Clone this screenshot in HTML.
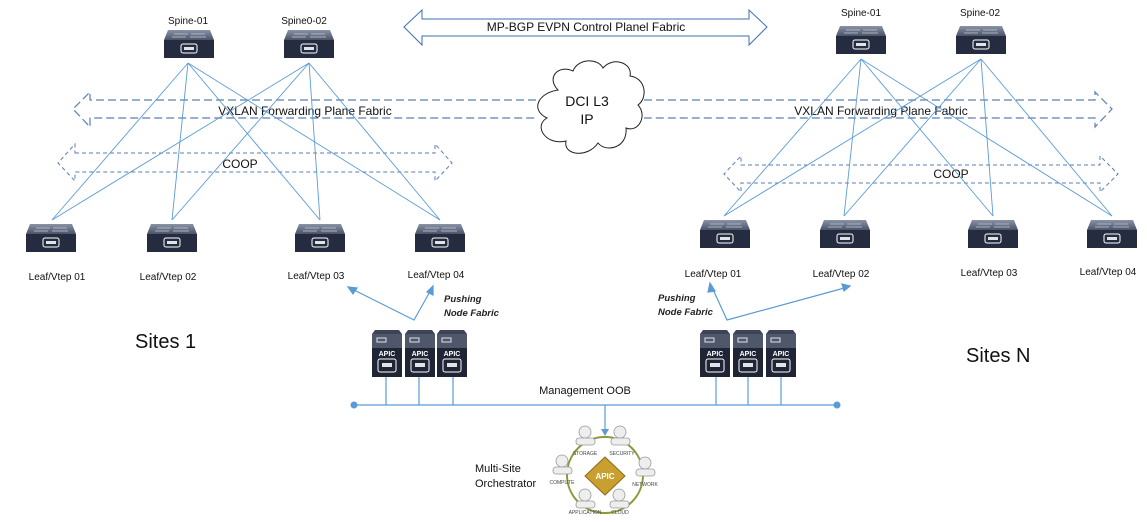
<!DOCTYPE html>
<html><head><meta charset="utf-8"><style>
html,body{margin:0;padding:0;background:#fff;}
svg{display:block;font-family:"Liberation Sans",sans-serif;}
</style></head><body>
<svg width="1147" height="522" viewBox="0 0 1147 522" xmlns="http://www.w3.org/2000/svg">
<defs>
<linearGradient id="tg" x1="0" y1="0" x2="0" y2="1"><stop offset="0" stop-color="#8a93a6"/><stop offset="1" stop-color="#4a5369"/></linearGradient>
<symbol id="sw" viewBox="0 0 50 28" width="50" height="28">
<path d="M4 0 H46 L50 10 H0 Z" fill="url(#tg)"/>
<line x1="10" y1="4" x2="24" y2="4" stroke="#c9ced9" stroke-width="0.7"/>
<line x1="27" y1="4" x2="41" y2="4" stroke="#c9ced9" stroke-width="0.7"/>
<line x1="8" y1="7" x2="22" y2="7" stroke="#c9ced9" stroke-width="0.7"/>
<line x1="26" y1="7" x2="42" y2="7" stroke="#c9ced9" stroke-width="0.7"/>
<rect x="0" y="10" width="50" height="18" fill="#262c3f"/>
<rect x="17" y="14" width="16" height="9" rx="2" fill="none" stroke="#fff" stroke-width="1"/>
<rect x="20" y="17" width="10" height="3" fill="#dfe3ea"/>
</symbol>
<symbol id="ap" viewBox="0 0 30 47" width="30" height="47">
<path d="M3 0 H27 L30 4 V47 H0 V4 Z" fill="#3d4456"/>
<rect x="0" y="4" width="30" height="14" fill="#4f576b"/>
<rect x="5" y="8" width="9" height="4" fill="none" stroke="#dfe3ea" stroke-width="1"/>
<rect x="0" y="18" width="30" height="29" fill="#1f2535"/>
<rect x="6" y="29" width="18" height="13" rx="2" fill="none" stroke="#fff" stroke-width="1"/>
<rect x="10" y="33" width="10" height="4" fill="#dfe3ea"/>
</symbol>
</defs>

<path d="M404 27 L422 10 V19 H749 V10 L767 27 L749 45 V36 H422 V45 Z" fill="#fff" stroke="#3c6fb0" stroke-width="1"/>
<text x="586" y="31" font-size="12" text-anchor="middle" fill="#111">MP-BGP EVPN Control Planel Fabric</text>

<g fill="none" stroke="#5b7fb0" stroke-width="1.2" stroke-dasharray="8,4">
<path d="M536 100 H90 V92 L73 109 L90 127 V118 H536"/>
<path d="M644 100 H1095 V92 L1112 109 L1095 127 V118 H644"/>
</g>
<g fill="none" stroke="#5b7fb0" stroke-width="1" stroke-dasharray="4,3">
<path d="M75 153 H435 V144 L452 163 L435 181 V172 H75 V181 L58 163 L75 144 Z"/>
<path d="M741 165 H1100 V156 L1118 174 L1100 192 V183 H741 V192 L724 174 L741 156 Z"/>
</g>

<path d="M558 90 C546 78 558 64 573 71 C578 58 598 58 603 68 C613 56 633 63 630 76 C646 78 648 98 638 105 C648 116 638 133 626 128 C628 148 606 153 598 143 C588 158 563 156 566 141 C546 146 533 126 547 118 C530 110 538 93 558 90 Z" fill="#fff" stroke="#222" stroke-width="1"/>
<text x="587" y="106" font-size="14" text-anchor="middle" fill="#111">DCI L3</text>
<text x="587" y="124" font-size="14" text-anchor="middle" fill="#111">IP</text>

<text x="305" y="115" font-size="12" text-anchor="middle" fill="#111">VXLAN  Forwarding Plane Fabric</text>
<text x="881" y="115" font-size="12" text-anchor="middle" fill="#111">VXLAN  Forwarding Plane Fabric</text>
<text x="240" y="168" font-size="12" text-anchor="middle" fill="#111">COOP</text>
<text x="951" y="178" font-size="12" text-anchor="middle" fill="#111">COOP</text>

<g stroke="#5b9bd5" stroke-width="0.9">
<line x1="188" y1="63" x2="52" y2="220"/><line x1="188" y1="63" x2="172" y2="220"/><line x1="188" y1="63" x2="320" y2="220"/><line x1="188" y1="63" x2="440" y2="220"/>
<line x1="309" y1="63" x2="52" y2="220"/><line x1="309" y1="63" x2="172" y2="220"/><line x1="309" y1="63" x2="320" y2="220"/><line x1="309" y1="63" x2="440" y2="220"/>
<line x1="861" y1="59" x2="724" y2="216"/><line x1="861" y1="59" x2="844" y2="216"/><line x1="861" y1="59" x2="993" y2="216"/><line x1="861" y1="59" x2="1112" y2="216"/>
<line x1="981" y1="59" x2="724" y2="216"/><line x1="981" y1="59" x2="844" y2="216"/><line x1="981" y1="59" x2="993" y2="216"/><line x1="981" y1="59" x2="1112" y2="216"/>
</g>

<use href="#sw" x="164" y="30"/><use href="#sw" x="284" y="30"/>
<use href="#sw" x="26" y="224"/><use href="#sw" x="147" y="224"/><use href="#sw" x="295" y="224"/><use href="#sw" x="415" y="224"/>
<use href="#sw" x="836" y="26"/><use href="#sw" x="956" y="26"/>
<use href="#sw" x="700" y="220"/><use href="#sw" x="820" y="220"/><use href="#sw" x="968" y="220"/><use href="#sw" x="1087" y="220"/>

<g font-size="10" text-anchor="middle" fill="#111">
<text x="188" y="24">Spine-01</text><text x="304" y="24">Spine0-02</text>
<text x="861" y="16">Spine-01</text><text x="980" y="16">Spine-02</text>
<text x="57" y="280">Leaf/Vtep 01</text><text x="168" y="280">Leaf/Vtep 02</text><text x="316" y="279">Leaf/Vtep 03</text><text x="436" y="278">Leaf/Vtep 04</text>
<text x="713" y="277">Leaf/Vtep 01</text><text x="841" y="277">Leaf/Vtep 02</text><text x="989" y="276">Leaf/Vtep 03</text><text x="1108" y="275">Leaf/Vtep 04</text>
</g>

<text x="135" y="348" font-size="20" fill="#111">Sites 1</text>
<text x="966" y="362" font-size="20" fill="#111">Sites N</text>

<g stroke="#5b9bd5" stroke-width="1.2" fill="#5b9bd5">
<polyline points="350,288 414,320 432,288" fill="none"/>
<path d="M348 287 L357 288 L353 294 Z"/><path d="M433 286 L433 295 L427 292 Z"/>
<polyline points="711,285 727,320 848,287" fill="none"/>
<path d="M710 283 L715 291 L708 292 Z"/><path d="M850 286 L842 284 L844 291 Z"/>
</g>
<g font-size="9.5" font-style="italic" font-weight="bold" fill="#222">
<text x="444" y="302">Pushing</text><text x="444" y="316">Node Fabric</text>
<text x="658" y="301">Pushing</text><text x="658" y="315">Node Fabric</text>
</g>

<use href="#ap" x="372" y="330"/><use href="#ap" x="405" y="330"/><use href="#ap" x="437" y="330"/>
<use href="#ap" x="700" y="330"/><use href="#ap" x="733" y="330"/><use href="#ap" x="766" y="330"/>
<g font-size="7" font-weight="bold" fill="#fff" text-anchor="middle">
<text x="387" y="356">APIC</text><text x="420" y="356">APIC</text><text x="452" y="356">APIC</text>
<text x="715" y="356">APIC</text><text x="748" y="356">APIC</text><text x="781" y="356">APIC</text>
</g>

<g stroke="#5b9bd5" stroke-width="1.2">
<line x1="354" y1="405" x2="837" y2="405"/>
<line x1="386" y1="377" x2="386" y2="405"/><line x1="419" y1="377" x2="419" y2="405"/><line x1="453" y1="377" x2="453" y2="405"/>
<line x1="716" y1="377" x2="716" y2="405"/><line x1="748" y1="377" x2="748" y2="405"/><line x1="781" y1="377" x2="781" y2="405"/>
<line x1="605" y1="405" x2="605" y2="430"/>
</g>
<circle cx="354" cy="405" r="3.5" fill="#5b9bd5"/><circle cx="837" cy="405" r="3.5" fill="#5b9bd5"/>
<path d="M601 429 L609 429 L605 436 Z" fill="#5b9bd5"/>
<text x="585" y="394" font-size="11" text-anchor="middle" fill="#111">Management OOB</text>

<text x="475" y="472" font-size="11" fill="#111">Multi-Site</text>
<text x="475" y="487" font-size="11" fill="#111">Orchestrator</text>
<circle cx="605" cy="475" r="38" fill="none" stroke="#8a9a3a" stroke-width="2"/>
<g fill="#eee" stroke="#999" stroke-width="0.8">
<circle cx="585" cy="432" r="6"/><rect x="576" y="438" width="19" height="7" rx="3"/>
<circle cx="620" cy="432" r="6"/><rect x="611" y="438" width="19" height="7" rx="3"/>
<circle cx="562" cy="461" r="6"/><rect x="553" y="467" width="19" height="7" rx="3"/>
<circle cx="645" cy="463" r="6"/><rect x="636" y="469" width="19" height="7" rx="3"/>
<circle cx="585" cy="495" r="6"/><rect x="576" y="501" width="19" height="7" rx="3"/>
<circle cx="619" cy="495" r="6"/><rect x="610" y="501" width="19" height="7" rx="3"/>
</g>
<path d="M605 457 L625 476 L605 495 L585 476 Z" fill="#c9a030" stroke="#8a6d1a" stroke-width="1"/>
<text x="605" y="479" font-size="8" font-weight="bold" text-anchor="middle" fill="#fff">APIC</text>
<g font-size="5" fill="#444" text-anchor="middle">
<text x="585" y="455">STORAGE</text><text x="622" y="455">SECURITY</text>
<text x="562" y="484">COMPUTE</text><text x="645" y="486">NETWORK</text>
<text x="585" y="514">APPLICATION</text><text x="620" y="514">CLOUD</text>
</g>
</svg>
</body></html>
